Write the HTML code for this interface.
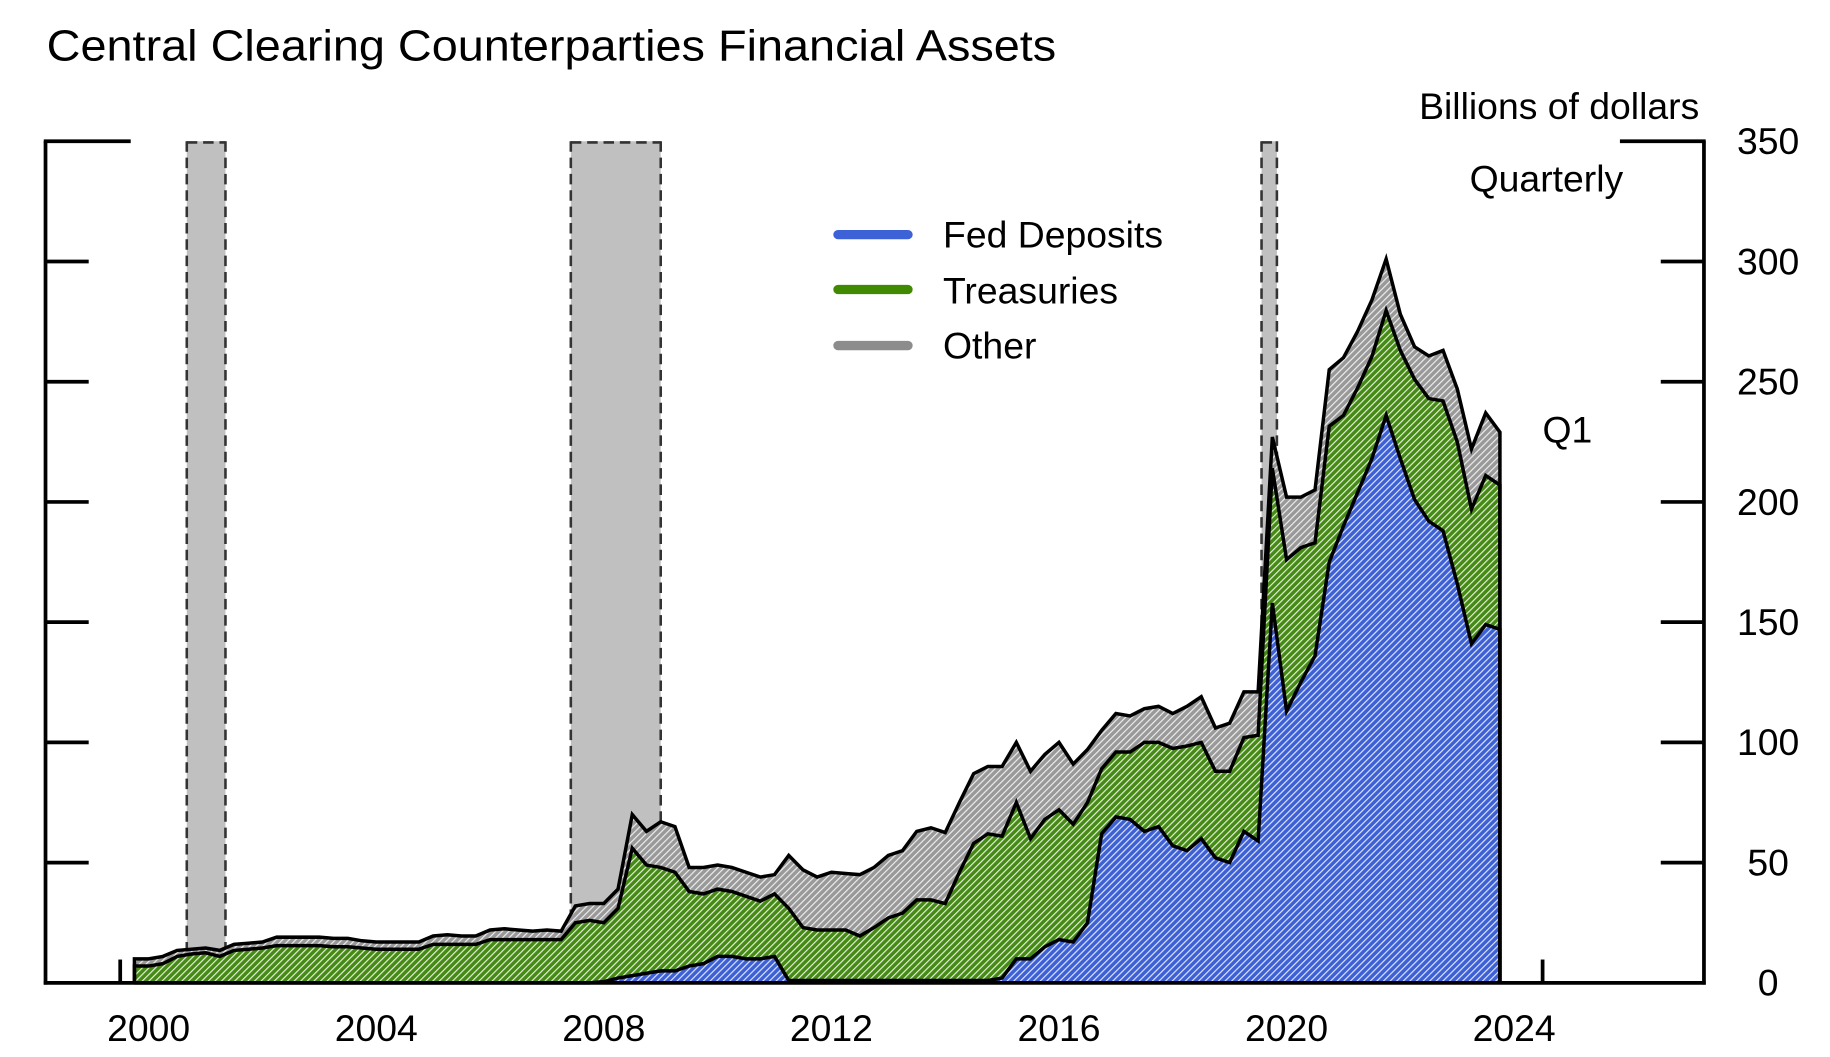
<!DOCTYPE html>
<html><head><meta charset="utf-8"><style>
html,body{margin:0;padding:0;background:#fff;}
svg{display:block;font-family:"Liberation Sans",Arial,sans-serif;}
</style></head><body>
<svg id="chart" width="1830" height="1057" viewBox="0 0 1568 905.5" preserveAspectRatio="none" xmlns="http://www.w3.org/2000/svg">
<defs>
<pattern id="hb" patternUnits="userSpaceOnUse" width="4" height="4" patternTransform="rotate(-45)"><rect width="4" height="4" fill="#3d60d4"/><rect width="4" height="1" fill="#dfe6ff"/></pattern>
<pattern id="hg" patternUnits="userSpaceOnUse" width="4" height="4" patternTransform="rotate(-45)"><rect width="4" height="4" fill="#468a16"/><rect width="4" height="1" fill="#e4f0d8"/></pattern>
<pattern id="ho" patternUnits="userSpaceOnUse" width="4" height="4" patternTransform="rotate(-45)"><rect width="4" height="4" fill="#999"/><rect width="4" height="1" fill="#eee"/></pattern>
</defs>
<text x="40" y="52" font-size="37" textLength="865" lengthAdjust="spacingAndGlyphs">Central Clearing Counterparties Financial Assets</text>
<text x="1456" y="102" font-size="32" text-anchor="end">Billions of dollars</text>
<text x="1325" y="164" font-size="32" text-anchor="middle">Quarterly</text>
<text x="1343" y="379" font-size="32" text-anchor="middle">Q1</text>
<g id="rec"></g>
<g id="areas"></g>
<g id="axes"></g>
<g font-size="32">
<line x1="718" y1="201" x2="778" y2="201" stroke="#3d62d8" stroke-width="8" stroke-linecap="round"/>
<text x="808" y="212">Fed Deposits</text>
<line x1="718" y1="248" x2="778" y2="248" stroke="#3f8a00" stroke-width="8" stroke-linecap="round"/>
<text x="808" y="260">Treasuries</text>
<line x1="718" y1="296" x2="778" y2="296" stroke="#8c8c8c" stroke-width="8" stroke-linecap="round"/>
<text x="808" y="307">Other</text>
</g>
</svg>
<script>
const startQuarter = 2000.25;
const fed = [0,0,0,0,0,0,0,0,0,0,0,0,0,0,0,0,0,0,0,0,0,0,0,0,0,0,0,0,0,0,0,
0,0,0.5,2,3,4,5,5,7,8,11,11,10,10,11,1,
1,1,1,1,1,1,1,1,1,1,1,1,
1,1,2,10,10,15,18,17,25,62,69,68,63,65,57,55,60,52,50,63,59,158,113,125,136,175,190,204,218,236,218,201,192,188,166,141,149,147];
const treasuries = [7,7,8,11,12,12.5,11,13.5,14,14.5,15.5,15.5,15.5,15.5,15,15,14.5,14,14,14,14,16,16,16,16,18,18,18,18,18,18,
25,26,24.5,29,53,45,43,41,31,29,28,27,26,24,26,30,
22,21,21,21,18.5,22,26,28,33.5,33.5,32,45,
57,61,59,65,50,53,54,49,50,27,27,28,37,35,40.5,43.5,40,36,38,39,44,56,63,56,47,56.5,46,43.5,42.5,43.6,45,50,51,54,59,56,62,60];
const other = [3,3,3,2.5,2,2,2.5,2.5,2.5,2.5,3.5,3.5,3.5,3.5,3.5,3.5,3,3,3,3,3,3.5,4,3.5,3.5,4,4.5,4,3.5,4,3.5,
7,7,8,8,14,14,19,19,10,11,10,10,10,10,8,22,
24,22,24,23.5,25.5,25,26,26,28.5,30,29.5,29,
29,28,29,25,28,27,28,25,22,16,16,15,14,15,14.5,16.5,19,18,20,19,18,13,26,21,22,23.5,24,23.5,23.5,21.4,15,13.5,17.7,21,22,25,26,22];
const recessions = [[2001.17,2001.85],[2007.92,2009.5],[2020.06,2020.33]];
const yTicks = [0,50,100,150,200,250,300,350];
const xLabels = [2000,2004,2008,2012,2016,2020,2024];

const NS="http://www.w3.org/2000/svg";
const X = t => 103 + (t-2000)*48.75;
const Y = v => 842 - v*2.06;
function mk(tag, parent, attrs){const e=document.createElementNS(NS,tag);for(const k in attrs)e.setAttribute(k,attrs[k]);parent.appendChild(e);return e;}

const rec=document.getElementById('rec');
recessions.forEach(r=>{
  const g=mk('g',rec,{});
  
  
  mk('rect',g,{x:X(r[0]),y:121,width:X(r[1])-X(r[0]),height:721,fill:'#c0c0c0'});
  [r[0],r[1]].forEach(t=>mk('line',g,{x1:X(t),y1:121,x2:X(t),y2:842,stroke:'#333','stroke-width':2.2,'stroke-dasharray':'9,5'}));
  mk('line',g,{x1:X(r[0]),y1:122,x2:X(r[1]),y2:122,stroke:'#333','stroke-width':2.2,'stroke-dasharray':'9,5'});
});

const n=fed.length;
const ts=[],c1=[],c2=[],c3=[];
for(let i=0;i<n;i++){ts.push(startQuarter+i*0.25);c1.push(fed[i]);c2.push(fed[i]+treasuries[i]);c3.push(fed[i]+treasuries[i]+other[i]);}
function areaPath(top,bot){let d='';for(let i=0;i<n;i++)d+=(i?'L':'M')+X(ts[i])+','+Y(top[i]);for(let i=n-1;i>=0;i--)d+='L'+X(ts[i])+','+Y(bot?bot[i]:0);return d+'Z';}
function linePath(top){let d='M'+X(ts[0])+','+Y(0);for(let i=0;i<n;i++)d+='L'+X(ts[i])+','+Y(top[i]);d+='L'+X(ts[n-1])+','+Y(0);return d;}
const areas=document.getElementById('areas');
const aO=mk('path',areas,{d:areaPath(c3,c2),fill:'url(#ho)'});


const aT=mk('path',areas,{d:areaPath(c2,c1),fill:'url(#hg)'});


const aF=mk('path',areas,{d:areaPath(c1,null),fill:'url(#hb)'});


[[c1,'line-fed-deposits'],[c2,'line-treasuries'],[c3,'line-other']].forEach(p=>{
  const l=mk('path',areas,{d:linePath(p[0]),fill:'none',stroke:'#000','stroke-width':3,'stroke-linejoin':'miter'});
  
  
});

const ax=document.getElementById('axes');
const st={stroke:'#000','stroke-width':3.2};
mk('line',ax,Object.assign({x1:39,y1:121,x2:39,y2:843.5},st));
mk('line',ax,Object.assign({x1:1460,y1:121,x2:1460,y2:843.5},st));
mk('line',ax,Object.assign({x1:37.5,y1:842,x2:1461.5,y2:842},st));
mk('line',ax,Object.assign({x1:37.5,y1:121,x2:112,y2:121},st));
mk('line',ax,Object.assign({x1:1388,y1:121,x2:1461.5,y2:121},st));
yTicks.forEach(v=>{
  if(v>0&&v<350){mk('line',ax,Object.assign({x1:39,y1:Y(v),x2:76,y2:Y(v)},st));mk('line',ax,Object.assign({x1:1423,y1:Y(v),x2:1460,y2:Y(v)},st));}
  const t=mk('text',ax,{x:1515,y:Y(v)+11,'font-size':32,'text-anchor':'middle'});
  
  
  t.textContent=v;
});
mk('line',ax,Object.assign({x1:X(2000),y1:822,x2:X(2000),y2:842},st));
mk('line',ax,Object.assign({x1:X(2025),y1:822,x2:X(2025),y2:842},st));
xLabels.forEach(yr=>{
  const t=mk('text',ax,{x:X(yr+0.5),y:892,'font-size':32,'text-anchor':'middle'});
  
  
  t.textContent=yr;
});
</script>
</body></html>
